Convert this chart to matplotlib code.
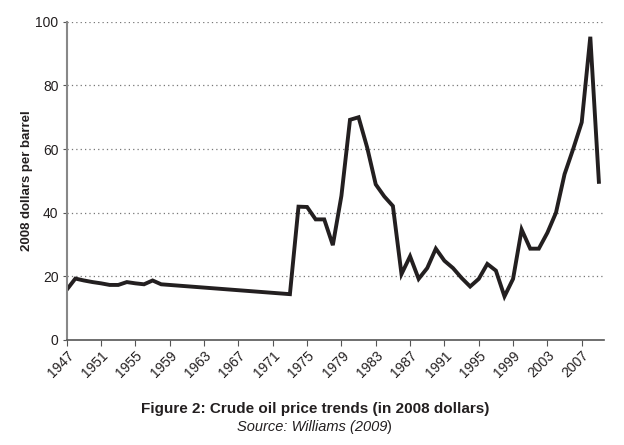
import matplotlib
matplotlib.use("Agg")
import matplotlib.pyplot as plt
import numpy as np

plt.rcParams['font.family'] = ['Liberation Sans', 'DejaVu Sans']

# years with data (gap 1959-1972 is drawn as a straight segment)
years = [1947, 1948, 1949, 1950, 1951, 1952, 1953, 1954, 1955, 1956, 1957, 1958,
         1973, 1974, 1975, 1976, 1977, 1978, 1979, 1980, 1981, 1982, 1983, 1984,
         1985, 1986, 1987, 1988, 1989, 1990, 1991, 1992, 1993, 1994, 1995, 1996,
         1997, 1998, 1999, 2000, 2001, 2002, 2003, 2004, 2005, 2006, 2007, 2008, 2009]
price = [15.8, 19.3, 18.7, 18.2, 17.8, 17.3, 17.3, 18.2, 17.8, 17.5, 18.7, 17.5,
         14.4, 41.9, 41.8, 37.9, 37.9, 29.8, 45.3, 69.2, 70.0, 60.5, 48.9, 45.1,
         42.1, 20.7, 26.3, 19.2, 22.6, 28.7, 24.9, 22.6, 19.5, 16.8, 19.2, 23.9,
         21.8, 13.7, 19.2, 34.7, 28.7, 28.7, 33.7, 40.0, 52.1, 60.0, 68.4, 95.3, 49.7]

xticks = list(range(1947, 2008, 4))
yticks = [0, 20, 40, 60, 80, 100]

fig = plt.figure(figsize=(6.24, 4.45), dpi=100)
ax = fig.add_axes([0.107, 0.236, 0.861, 0.715])

ax.plot(years, price, color='#231f20', lw=2.8, solid_joinstyle='miter')

ax.set_xlim(1947, 2009.6)
ax.set_ylim(0, 100)
ax.set_xticks(xticks)
ax.set_xticklabels([str(y) for y in xticks], rotation=45, ha='right',
                   rotation_mode='anchor', fontsize=10, color='#231f20')
ax.set_yticks(yticks)
ax.set_yticklabels([str(v) for v in yticks], fontsize=10, color='#231f20')
ax.tick_params(axis='x', length=4, color='#555555', pad=2)
ax.tick_params(axis='y', length=3, color='#555555', pad=3)

for v in yticks[1:]:
    ax.axhline(v, color='#777777', lw=0.9, ls=(0, (1, 2.5)), zorder=0)

for s in ['top', 'right']:
    ax.spines[s].set_visible(False)
ax.spines['left'].set_color('#888888')
ax.spines['bottom'].set_color('#555555')
ax.spines['left'].set_linewidth(1.5)
ax.spines['bottom'].set_linewidth(1.2)

ax.set_ylabel('2008 dollars per barrel', fontsize=9.5, fontweight='bold',
              color='#231f20', labelpad=2)

fig.text(0.505, 0.081, 'Figure 2: Crude oil price trends (in 2008 dollars)',
         ha='center', va='center', fontsize=11, fontweight='bold', color='#231f20')
t = fig.text(0.5, 0.04, 'Source: Williams (2009', ha='center', va='center',
             fontsize=10.5, style='italic', color='#231f20')
fig.canvas.draw()
bb = t.get_window_extent()
fig.text(bb.x1 / fig.bbox.width, 0.04, ')', ha='left', va='center',
         fontsize=10.5, color='#231f20')

fig.savefig('out.png', dpi=100)
